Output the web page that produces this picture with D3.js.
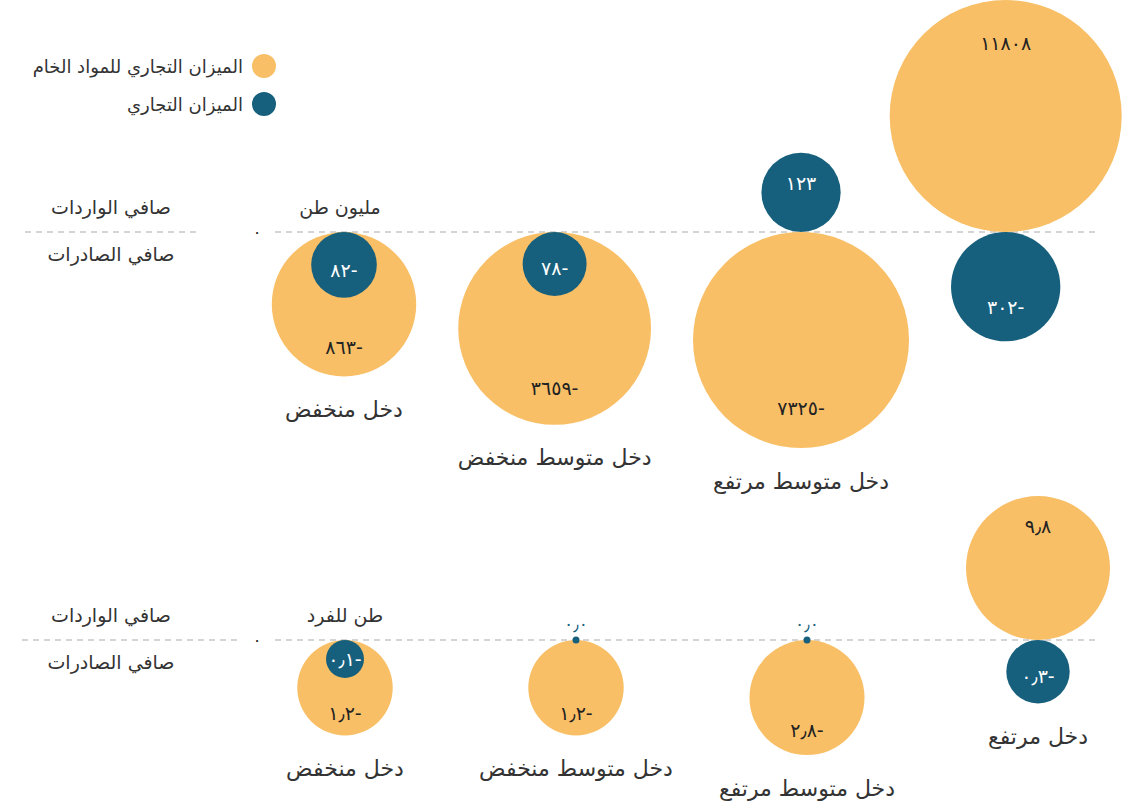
<!DOCTYPE html>
<html>
<head>
<meta charset="utf-8">
<script src="https://cdn.jsdelivr.net/npm/d3@7"></script>
<style>
  body { margin: 0; background: #fff; }
  text { font-family: "DejaVu Sans", sans-serif; }
</style>
</head>
<body>
<svg id="chart" width="1133" height="801"></svg>
<script>
// income groups
var groups = ["دخل منخفض", "دخل متوسط منخفض", "دخل متوسط مرتفع", "دخل مرتفع"]
var showTopLabel = [true, true, true, false]

// net trade, million tonnes (negative = net exports)
var rawTotal = [-863, -3659, -7325, 11808]
var tradeTotal = [-82, -78, 123, -302]

// net trade, tonnes per capita
var rawPerCap = [-1.2, -1.2, -2.8, 9.8]
var tradePerCap = [-0.1, 0.0, 0.0, -0.3]

var seriesNames = ["الميزان التجاري للمواد الخام", "الميزان التجاري"]
var colors = ["#f8bf66", "#17607d"]

var svg = d3.select("#chart")

var loc = d3.formatLocale({
  decimal: "٫", thousands: "", grouping: [3], currency: ["", ""],
  numerals: ["٠","١","٢","٣","٤","٥","٦","٧","٨","٩"], minus: "-"
})

// legend
seriesNames.forEach(function(name, i){
  svg.append('circle').attr('cx', 264).attr('cy', 66 + i*38).attr('r', 12).attr('fill', colors[i])
  svg.append('text').attr('x', 243).attr('y', 66 + i*38).attr('text-anchor', 'end')
    .attr('dominant-baseline', 'central').attr('font-size', 18).attr('fill', '#333').text(name)
})

function drawRow(opt){
  var base = opt.base
  var g = svg.append('g')

  // baseline
  g.append('line').attr('x1', opt.leftLine[0]).attr('x2', opt.leftLine[1]).attr('y1', base).attr('y2', base)
    .attr('stroke', '#aaa').attr('stroke-width', 1.2).attr('stroke-dasharray', '6,5')
  g.append('line').attr('x1', 275).attr('x2', 1100).attr('y1', base).attr('y2', base)
    .attr('stroke', '#aaa').attr('stroke-width', 1.2).attr('stroke-dasharray', '6,5')
  g.append('text').attr('x', 257).attr('y', base).attr('text-anchor', 'middle')
    .attr('dominant-baseline', 'central').attr('font-size', 16).attr('fill', '#222').text(loc.format('d')(0))

  g.append('text').attr('x', 111).attr('y', base - 25).attr('text-anchor', 'middle')
    .attr('dominant-baseline', 'central').attr('font-size', 19).attr('fill', '#333').text('صافي الواردات')
  g.append('text').attr('x', 111).attr('y', base + 22).attr('text-anchor', 'middle')
    .attr('dominant-baseline', 'central').attr('font-size', 19).attr('fill', '#333').text('صافي الصادرات')
  g.append('text').attr('x', opt.unitX).attr('y', base - 25).attr('text-anchor', 'middle')
    .attr('dominant-baseline', 'central').attr('font-size', 19).attr('fill', '#333').text(opt.unit)

  var r = opt.r
  var rad = function(v){ return v === 0 ? 3.5 : r(Math.abs(v)) }

  // x positions
  var xs = opt.x(rad)

  var fmt = loc.format(opt.fmt)

  groups.forEach(function(name, i){
    var cx = xs[i]
    var vals = [opt.raw[i], opt.trade[i]]
    var low = 0
    vals.forEach(function(v, s){
      var rr = rad(v)
      var sign = v > 0 ? -1 : 1
      var cy = v === 0 ? base : base + sign*rr
      g.append('circle').attr('cx', cx).attr('cy', cy).attr('r', rr).attr('fill', colors[s])
      if (v < 0) low = Math.max(low, 2*rr)
    })
    vals.forEach(function(v, s){
      var rr = rad(v)
      var sign = v > 0 ? -1 : 1
      var ly, fill
      if (v === 0) {
        ly = base - 16; fill = colors[1]
      } else {
        var d = s === 0 ? Math.min(rr, 0.3*rr + 8) : Math.min(rr, 0.3*rr + 18)
        ly = base + sign*(2*rr - d)
        fill = s === 0 ? '#222' : '#fff'
      }
      g.append('text').attr('x', cx).attr('y', ly).attr('text-anchor', 'middle').attr('direction', 'rtl')
        .attr('dominant-baseline', 'central').attr('font-size', v === 0 ? 17 : 19).attr('fill', fill)
        .text(fmt(v))
    })
    if (opt.labels[i]) {
      g.append('text').attr('x', cx).attr('y', base + low + 33).attr('text-anchor', 'middle')
        .attr('dominant-baseline', 'central').attr('font-size', 22).attr('fill', '#333').text(name)
    }
  })
}

// top row: radii on a log scale, groups packed side by side with a fixed gap
var rTop = d3.scaleLog().domain([78, 11808]).range([32, 116])
drawRow({
  base: 232, raw: rawTotal, trade: tradeTotal, r: rTop, fmt: 'd',
  unit: 'مليون طن', unitX: 340, leftLine: [25, 197], labels: showTopLabel,
  x: function(rad){
    var gap = 42, xs = [344]
    for (var i = 1; i < groups.length; i++) {
      var best = 0
      ;[1, -1].forEach(function(side){
        var prev = d3.max([rawTotal[i-1], tradeTotal[i-1]].map(function(v){ return Math.sign(v) === side ? rad(v) : 0 }))
        var cur = d3.max([rawTotal[i], tradeTotal[i]].map(function(v){ return Math.sign(v) === side ? rad(v) : 0 }))
        if (prev > 0 && cur > 0) best = Math.max(best, prev + gap + cur)
      })
      xs.push(xs[i-1] + best)
    }
    return xs
  }
})

// bottom row
var rBottom = d3.scaleLog().domain([0.1, 9.8]).range([19, 72])
var xBottom = d3.scalePoint().domain(groups).range([345, 1038])
drawRow({
  base: 640, raw: rawPerCap, trade: tradePerCap, r: rBottom, fmt: '.1f',
  unit: 'طن للفرد', unitX: 345, leftLine: [22, 237], labels: [true, true, true, true],
  x: function(){ return groups.map(function(d){ return xBottom(d) }) }
})
</script>
</body>
</html>
